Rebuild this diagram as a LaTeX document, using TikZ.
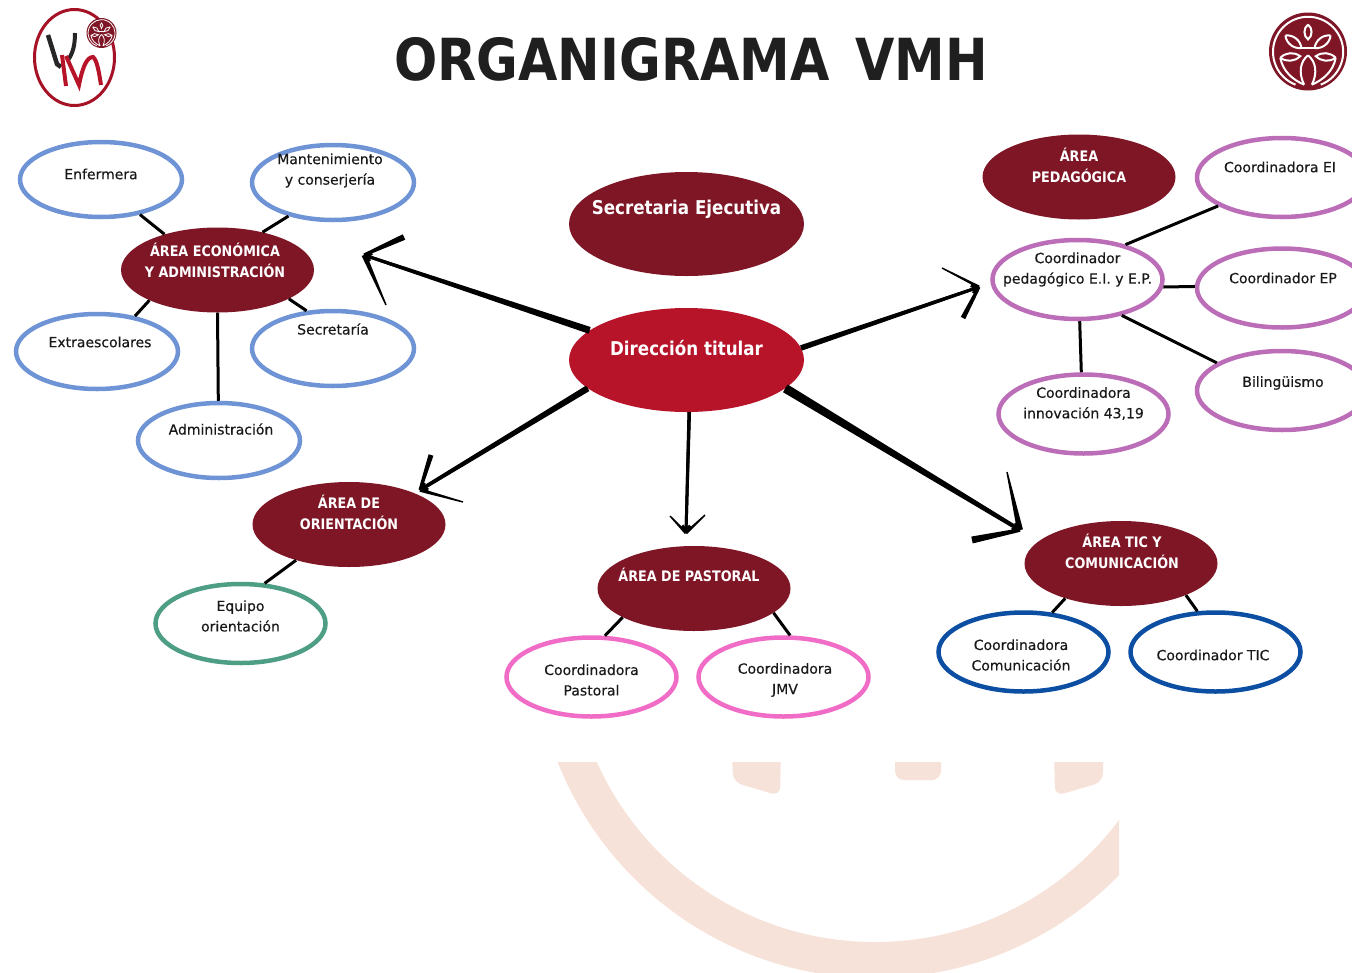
\documentclass[tikz,border=0pt]{standalone}
\usepackage{fontspec}
\usepackage{xcolor}
\usepackage{tikz}
\usetikzlibrary{arrows.meta,calc,shapes.geometric}

\setmainfont[FakeBold=0.3]{DejaVu Sans}
\newfontfamily\areafont[FakeStretch=0.88]{DejaVu Sans}
\newfontfamily\titlefont[FakeStretch=0.877]{DejaVu Sans}

\definecolor{vmhdark}{HTML}{7F1626}
\definecolor{vmhred}{HTML}{B7142A}
\definecolor{vmhblue}{HTML}{6F94D6}
\definecolor{vmhlilac}{HTML}{BC6DB8}
\definecolor{vmhgreen}{HTML}{4E9E86}
\definecolor{vmhpink}{HTML}{F06CC6}
\definecolor{vmhnavy}{HTML}{0B4EA2}
\definecolor{vmhpeach}{HTML}{F7E2DA}

\tikzset{
  oval/.style={ellipse,draw,fill=white,line width=4.5pt,inner sep=0pt,minimum width=170pt,minimum height=79pt},
  smalloval/.style={oval,draw=vmhblue,minimum width=162pt,minimum height=75pt},
  area/.style={ellipse,fill=vmhdark,inner sep=0pt,minimum width=193pt,minimum height=85pt},
  mainarea/.style={area,minimum width=235pt,minimum height=104pt},
  every label/.style={align=center,font=\fontsize{14}{20.5}\selectfont,text=black!90},
  arealabel/.style={font=\areafont\bfseries\fontsize{14.5}{21}\selectfont,text=white},
  mainlabel/.style={font=\areafont\bfseries\fontsize{19}{23}\selectfont,text=white},
  link/.style={line width=3pt},
  brusharrow/.style={-{Straight Barb[length=5pt,width=8pt]},line width=3pt},
  treeline/.style={line width=2pt},
  treelogo/.pic={
    \fill[vmhdark] (0,0) circle (1);
    \draw[white,treeline] (-.32,-.85) arc (249:-69:.9);
    \draw[white,treeline] (0,.69) to[bend left=55] (0,.31) to[bend left=55] (0,.69);
    \draw[white,treeline] (-.58,.41) to[bend left=45] (-.17,.09) to[bend left=45] (-.58,.41);
    \draw[white,treeline] (.58,.41) to[bend right=45] (.17,.09) to[bend right=45] (.58,.41);
    \draw[white,treeline] (-.71,-.16) to[bend left=40] (-.2,-.12) to[bend left=40] (-.71,-.16);
    \draw[white,treeline] (.71,-.16) to[bend right=40] (.2,-.12) to[bend right=40] (.71,-.16);
    \draw[white,treeline] (-.71,-.16) .. controls (-.65,-.5) and (-.4,-.72) .. (-.1,-.85);
    \draw[white,treeline] (.71,-.16) .. controls (.65,-.5) and (.4,-.72) .. (.1,-.85);
    \draw[white,treeline] (-.17,.09) -- (.17,.09);
    \draw[white,treeline] (-.1,-.85) .. controls (-.25,-.55) and (-.2,-.25) .. (0,-.1);
    \draw[white,treeline] (.1,-.85) .. controls (.25,-.55) and (.2,-.25) .. (0,-.1);
  }
}

% tapered brush stroke: from, to, half width at from, half width at to
\newcommand{\brushstroke}[4]{\fill ($(#1)!#3!90:(#2)$) -- ($(#2)!#4!-90:(#1)$) -- ($(#2)!#4!90:(#1)$) -- ($(#1)!#3!-90:(#2)$) -- cycle;}

\begin{document}
\begin{tikzpicture}[x=1pt,y=-1pt]
\useasboundingbox (0,0) rectangle (1352,972);

% watermark
\begin{scope}
\clip (0,762) rectangle (1119,972);
\fill[vmhpeach,even odd rule] (875,637) circle (341) (875,637) circle (305);
\fill[vmhpeach,rounded corners=9pt] (732,750) -- (733,782) -- (780,796) -- (781,750) -- cycle;
\fill[vmhpeach,rounded corners=9pt] (895,750) -- (895,780) -- (941,780) -- (941,750) -- cycle;
\fill[vmhpeach,rounded corners=9pt] (1054,750) -- (1055,796) -- (1103,782) -- (1103,750) -- cycle;
\end{scope}

% logos
\node[ellipse,draw=vmhred!90!black,line width=3pt,minimum width=80pt,minimum height=96pt,inner sep=0pt] (logoL) at (74.5,57.5) {};
\draw[line width=4.5pt,black!85] (48,35) -- (57,64) -- (61,67);
\draw[line width=4pt,black!85] (75,33) .. controls (75,45) and (73,53) .. (68,60);
\draw[line width=4pt,vmhred] (62,55) -- (66,86);
\draw[line width=4pt,vmhred] (66,56) -- (79,85) .. controls (82,70) and (86,57) .. (93,57) .. controls (97,60) and (99,72) .. (101,85);
\begin{scope}[shift={(101.5,33)},x=15pt,y=15pt,treeline/.style={line width=.8pt}]
\pic (treeL) {treelogo};
\end{scope}
\begin{scope}[shift={(1308,51.5)},x=39pt,y=39pt]
\pic (treeR) {treelogo};
\end{scope}

\node[font=\titlefont\bfseries\fontsize{58}{58}\selectfont,text=black!88] (title) at (691,59) {ORGANIGRAMA\hspace{8pt} VMH};

% central nodes
\node[mainarea,fill=vmhred,label={[mainlabel,yshift=12pt]center:Dirección titular}] (dir) at (686.5,360) {};
\node[mainarea,label={[mainlabel,yshift=15pt]center:Secretaria Ejecutiva}] (sec) at (686.5,224) {};

% economica
\node[area,label={[arealabel,xshift=-2.5pt,yshift=10pt]center:ÁREA ECONÓMICA\\Y ADMINISTRACIÓN}] (eco) at (217.5,270) {};
\node[smalloval,label={[yshift=5.5pt]center:Enfermera}] (enf) at (101,179.5) {};
\node[smalloval,label={[xshift=-3pt,yshift=12pt]center:Mantenimiento\\y conserjería}] (man) at (333,182.5) {};
\node[smalloval,label={[xshift=3pt,yshift=9.5pt]center:Extraescolares}] (ext) at (97,351.5) {};
\node[smalloval,label={[yshift=19.5pt]center:Secretaría}] (sct) at (333,348.5) {};
\node[smalloval,label={[xshift=2pt,yshift=11.5pt]center:Administración}] (adm) at (219,440.5) {};

% pedagogica
\node[area,label={[arealabel,yshift=11.5pt]center:ÁREA\\PEDAGÓGICA}] (ped) at (1079,177) {};
\node[oval,draw=vmhlilac,label={[yshift=10pt]center:Coordinador\\pedagógico E.I. y E.P.}] (cped) at (1077.5,279.5) {};
\node[oval,draw=vmhlilac,label={[xshift=-2pt,yshift=10.5pt]center:Coordinadora EI}] (cei) at (1282,177.5) {};
\node[oval,draw=vmhlilac,label={[xshift=1pt,yshift=10pt]center:Coordinador EP}] (cep) at (1282,288) {};
\node[oval,draw=vmhlilac,label={[xshift=1pt,yshift=7.5pt]center:Bilingüismo}] (bil) at (1282,390.5) {};
\node[oval,draw=vmhlilac,label={[yshift=10.5pt]center:Coordinadora\\innovación 43,19}] (inn) at (1083.5,414) {};

% orientacion
\node[area,label={[arealabel,yshift=12.5pt]center:ÁREA DE\\ORIENTACIÓN}] (ori) at (349,524.5) {};
\node[oval,draw=vmhgreen,label={[yshift=7.5pt]center:Equipo\\orientación}] (equ) at (240.5,623.5) {};

% pastoral
\node[area,label={[arealabel,xshift=-5pt,yshift=14pt]center:ÁREA DE PASTORAL}] (pas) at (694,588.5) {};
\node[oval,draw=vmhpink,label={[yshift=-3pt]center:Coordinadora\\Pastoral}] (cpa) at (591.5,677) {};
\node[oval,draw=vmhpink,label={[xshift=1.5pt,yshift=-3pt]center:Coordinadora\\JMV}] (jmv) at (783.5,677) {};

% tic
\node[area,label={[arealabel,xshift=1pt,yshift=12pt]center:ÁREA TIC Y\\COMUNICACIÓN}] (tic) at (1121,563.5) {};
\node[oval,draw=vmhnavy,label={[xshift=-2.5pt,yshift=-3pt]center:Coordinadora\\Comunicación}] (com) at (1023.5,652) {};
\node[oval,draw=vmhnavy,label={[xshift=-2.5pt,yshift=-3pt]center:Coordinador TIC}] (cti) at (1215.5,652) {};

\path[link] (eco.146) edge (enf.318)
      (eco.40)  edge (man.217)
      (eco.204) edge (ext.43)
      (eco.338) edge (sct.125)
      (eco.270) edge (adm.91.5);

\path[link] (cped.36) edge (cei.204)
      (cped.355) edge (cep.179)
      (cped.321) edge (bil.157)
      (cped.273) edge (inn.93);

\path[link] (ori.214) edge (equ.59)
      (pas.202) edge (cpa.72)
      (pas.343) edge (jmv.81)
      (tic.212) edge (com.54)
      (tic.334) edge (cti.114);

% arrows from the centre
\coordinate (ecoTip) at (364,255);
\coordinate (ecoBarbA) at (404,237);
\coordinate (ecoBarbB) at (386,305);
\coordinate (cpedTip) at (979,287);
\coordinate (cpedBarbA) at (942,268);
\coordinate (cpedBarbB) at (963,318);
\coordinate (oriTip) at (420,490);
\coordinate (oriBarbA) at (431,455);
\coordinate (oriBarbB) at (463,502);
\coordinate (pasTip) at (686,533);
\coordinate (pasBarbA) at (670,516);
\coordinate (pasBarbB) at (705,515);
\coordinate (ticTip) at (1020,530);
\coordinate (ticBarbA) at (1007,472);
\coordinate (ticBarbB) at (972,540);

\draw[brusharrow] (dir.163) -- (ecoTip);
\draw[brusharrow] (dir.6.5) -- (cpedTip);
\draw[brusharrow] (dir.196) -- (oriTip);
\draw[brusharrow] (dir.273) -- (pasTip);
\draw[brusharrow] (dir.344) -- (ticTip);

\brushstroke{dir.163}{ecoTip}{3.5pt}{1.5pt}
\brushstroke{ecoTip}{ecoBarbA}{1.5pt}{3pt}
\brushstroke{ecoTip}{ecoBarbB}{2.5pt}{.7pt}
\brushstroke{dir.6.5}{cpedTip}{2.8pt}{1.5pt}
\brushstroke{cpedTip}{cpedBarbA}{1.5pt}{.7pt}
\brushstroke{cpedTip}{cpedBarbB}{1.5pt}{2.5pt}
\brushstroke{dir.196}{oriTip}{3.2pt}{1.8pt}
\brushstroke{oriTip}{oriBarbA}{1.5pt}{2.5pt}
\brushstroke{oriTip}{oriBarbB}{1.8pt}{.7pt}
\brushstroke{dir.273}{pasTip}{1.8pt}{1.4pt}
\brushstroke{pasTip}{pasBarbA}{1.5pt}{.7pt}
\brushstroke{pasTip}{pasBarbB}{1.5pt}{.7pt}
\brushstroke{dir.344}{ticTip}{4.5pt}{2pt}
\brushstroke{ticTip}{ticBarbA}{3pt}{.7pt}
\brushstroke{ticTip}{ticBarbB}{1.8pt}{3.5pt}

\end{tikzpicture}
\end{document}
